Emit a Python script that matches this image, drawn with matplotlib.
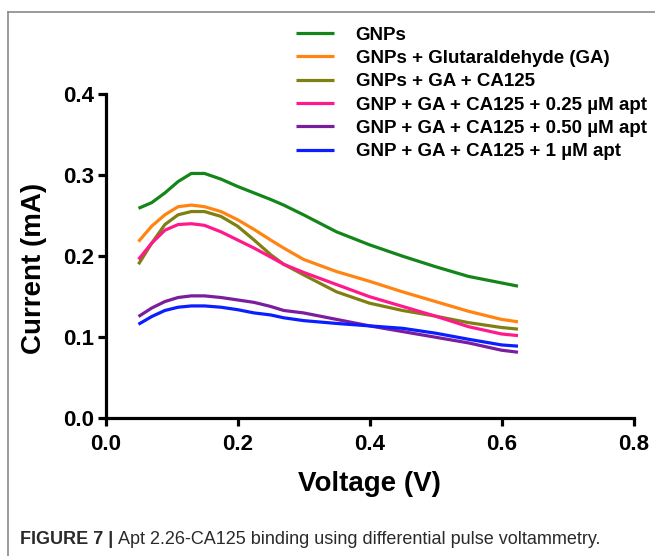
import matplotlib
matplotlib.use("Agg")
import matplotlib.pyplot as plt
from matplotlib.lines import Line2D

plt.rcParams['font.family'] = ['Liberation Sans', 'DejaVu Sans']

voltage = [0.05, 0.07, 0.09, 0.11, 0.13, 0.15, 0.175, 0.2, 0.225, 0.25, 0.27,
           0.3, 0.35, 0.4, 0.45, 0.5, 0.55, 0.6, 0.625]

gnps = [0.259, 0.266, 0.278, 0.292, 0.302, 0.302, 0.295, 0.286, 0.278, 0.270, 0.263,
        0.251, 0.230, 0.214, 0.200, 0.187, 0.175, 0.167, 0.163]
gnps_ga = [0.218, 0.237, 0.251, 0.261, 0.263, 0.261, 0.255, 0.245, 0.233, 0.220, 0.210,
           0.196, 0.181, 0.169, 0.156, 0.144, 0.132, 0.122, 0.119]
gnps_ga_ca = [0.190, 0.216, 0.239, 0.251, 0.255, 0.255, 0.249, 0.237, 0.220, 0.202, 0.190,
              0.177, 0.156, 0.142, 0.133, 0.126, 0.118, 0.112, 0.110]
apt_025 = [0.196, 0.216, 0.232, 0.239, 0.240, 0.238, 0.230, 0.220, 0.210, 0.199, 0.190,
           0.180, 0.165, 0.150, 0.138, 0.126, 0.113, 0.104, 0.102]
apt_050 = [0.1255, 0.136, 0.144, 0.149, 0.151, 0.151, 0.149, 0.146, 0.143, 0.138, 0.133,
           0.130, 0.122, 0.114, 0.107, 0.100, 0.093, 0.084, 0.0815]
apt_1 = [0.116, 0.1255, 0.133, 0.137, 0.1386, 0.1386, 0.137, 0.134, 0.130, 0.1275, 0.124,
         0.1205, 0.117, 0.114, 0.111, 0.105, 0.0975, 0.0905, 0.089]

labels = ["GNPs",
          "GNPs + Glutaraldehyde (GA)",
          "GNPs + GA + CA125",
          "GNP + GA + CA125 + 0.25 \u00b5M apt",
          "GNP + GA + CA125 + 0.50 \u00b5M apt",
          "GNP + GA + CA125 + 1 \u00b5M apt"]
series = [gnps, gnps_ga, gnps_ga_ca, apt_025, apt_050, apt_1]
colors = ['#14851a', '#ff8412', '#7f8012', '#ff1a8c', '#7a1d9e', '#0a1eff']

x_ticks = [0.0, 0.2, 0.4, 0.6, 0.8]
y_ticks = [0.0, 0.1, 0.2, 0.3, 0.4]

W, H = 655, 556
fig = plt.figure(figsize=(W / 100, H / 100), dpi=100)
ax = fig.add_axes([105.5 / W, (H - 418.3) / H, 528 / W, (418.3 - 94) / H])

handles = []
for ys, c, lab in zip(series, colors, labels):
    h, = ax.plot(voltage, ys, color=c, lw=2.3, label=lab,
                 solid_capstyle='butt', solid_joinstyle='round')
    handles.append(h)

ax.set_xlim(0, 0.8)
ax.set_ylim(0, 0.4)
ax.set_xticks(x_ticks)
ax.set_yticks(y_ticks)
ax.set_xticklabels([f"{v:.1f}" for v in x_ticks])
ax.set_yticklabels([f"{v:.1f}" for v in y_ticks])
for s in ['top', 'right']:
    ax.spines[s].set_visible(False)
for s in ['left', 'bottom']:
    ax.spines[s].set_linewidth(2.3)
    ax.spines[s].set_color('black')
ax.tick_params(axis='both', direction='out', length=6, width=2.3, colors='black',
               labelsize=16)
ax.tick_params(axis='x', pad=5)
ax.tick_params(axis='y', pad=2)
for t in ax.get_xticklabels() + ax.get_yticklabels():
    t.set_fontweight('bold')
ax.set_xlabel("Voltage (V)", fontsize=20, fontweight='bold', labelpad=12)
ax.set_ylabel("Current (mA)", fontsize=20, fontweight='bold')
ax.yaxis.set_label_coords((47 - 105.5) / 528, (418.3 - 268) / 324.3)

leg = fig.legend(handles=handles, labels=labels, loc='upper left',
                 bbox_to_anchor=(288 / W, 1 - 19 / H), frameon=False,
                 prop={'weight': 'bold', 'size': 13.5}, handlelength=2.05,
                 handletextpad=1.15, labelspacing=0.33, borderaxespad=0)

# figure frame (top and left edges)
fig.add_artist(Line2D([8 / W, 8 / W], [0, 1 - 12 / H], transform=fig.transFigure,
                      color='#8a8a8a', lw=1.2))
fig.add_artist(Line2D([8 / W, 1], [1 - 12 / H, 1 - 12 / H], transform=fig.transFigure,
                      color='#8a8a8a', lw=1.2))

cap_y = 1 - 540 / H
t1 = fig.text(20 / W, cap_y, "FIGURE 7 |", fontsize=13, fontweight='bold',
              color='#2a2a2a', va='center', ha='left')
renderer = fig.canvas.get_renderer()
bb = t1.get_window_extent(renderer=renderer)
fig.text((bb.x1 + 5) / W, cap_y,
         "Apt 2.26-CA125 binding using differential pulse voltammetry.",
         fontsize=13, color='#2a2a2a', va='center', ha='left')

fig.savefig("out.png", dpi=100)
